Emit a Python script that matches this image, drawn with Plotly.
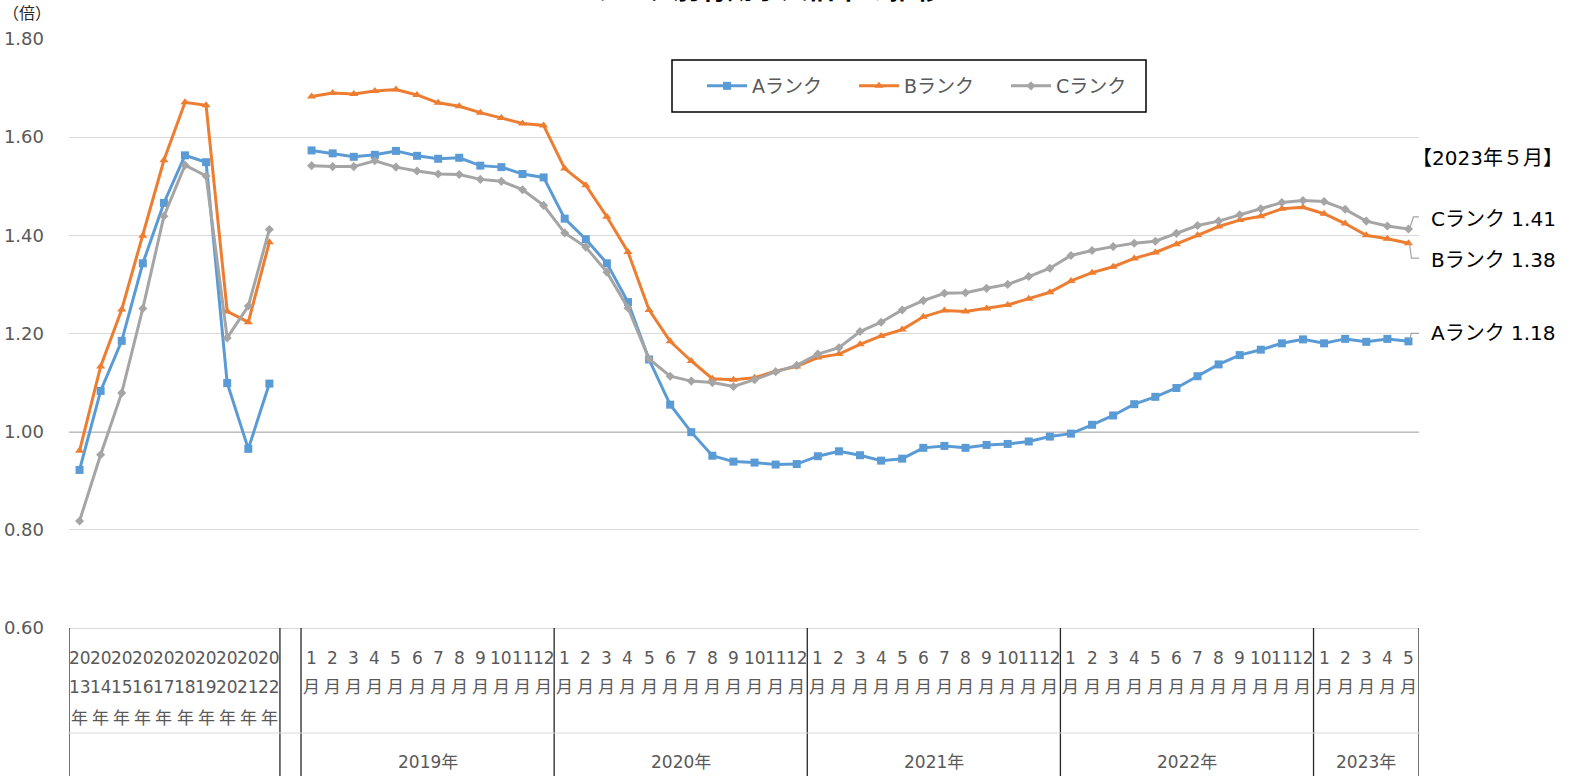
import plotly.graph_objects as go

# ---------------- data ----------------
annual_years = [2013, 2014, 2015, 2016, 2017, 2018, 2019, 2020, 2021, 2022]
month_years = [2019, 2020, 2021, 2022, 2023]
months_per_year = [12, 12, 12, 12, 5]

A_annual = [0.922, 1.083, 1.185, 1.343, 1.466, 1.563, 1.549, 1.099, 0.965, 1.098]
B_annual = [0.961, 1.133, 1.249, 1.399, 1.553, 1.671, 1.665, 1.245, 1.223, 1.386]
C_annual = [0.818, 0.953, 1.079, 1.251, 1.439, 1.543, 1.521, 1.191, 1.256, 1.412]

A_monthly = [1.573, 1.567, 1.560, 1.564, 1.572, 1.562, 1.556, 1.558, 1.542, 1.539, 1.525, 1.518,
             1.434, 1.392, 1.343, 1.264, 1.147, 1.055, 0.999, 0.951, 0.939, 0.937, 0.933, 0.934,
             0.950, 0.960, 0.952, 0.941, 0.945, 0.967, 0.971, 0.967, 0.973, 0.975, 0.980, 0.990,
             0.996, 1.014, 1.033, 1.056, 1.071, 1.089, 1.113, 1.137, 1.156, 1.167, 1.180, 1.188,
             1.180, 1.189, 1.183, 1.189, 1.184]
B_monthly = [1.683, 1.690, 1.688, 1.694, 1.697, 1.686, 1.670, 1.663, 1.650, 1.639, 1.628, 1.624,
             1.536, 1.502, 1.438, 1.366, 1.248, 1.184, 1.144, 1.108, 1.106, 1.110, 1.123, 1.133,
             1.151, 1.158, 1.178, 1.195, 1.208, 1.234, 1.247, 1.245, 1.251, 1.258, 1.271, 1.284,
             1.307, 1.324, 1.336, 1.353, 1.365, 1.382, 1.400, 1.418, 1.431, 1.439, 1.454, 1.457,
             1.444, 1.424, 1.400, 1.393, 1.384]
C_monthly = [1.542, 1.540, 1.540, 1.552, 1.539, 1.531, 1.525, 1.524, 1.514, 1.510, 1.493, 1.461,
             1.405, 1.376, 1.325, 1.252, 1.148, 1.113, 1.103, 1.100, 1.092, 1.106, 1.122, 1.135,
             1.158, 1.171, 1.204, 1.223, 1.248, 1.267, 1.282, 1.283, 1.292, 1.300, 1.316, 1.333,
             1.359, 1.369, 1.377, 1.384, 1.388, 1.404, 1.420, 1.429, 1.442, 1.454, 1.467, 1.471,
             1.469, 1.453, 1.429, 1.419, 1.413]

series_names = ["Aランク", "Bランク", "Cランク"]
series_colors = ["#5B9BD5", "#ED7D31", "#A5A5A5"]
series_symbols = ["square", "triangle-up", "diamond"]
series_msize = [8, 8, 7]

title_text = "ランク別有効求人倍率の推移"
y_unit = "（倍）"
latest_label = "【2023年５月】"

# ---------------- layout constants ----------------
W, H = 1573, 776
ML, MR, MT, MB = 69, 154, 39, 148
PW, PH = W - ML - MR, H - MT - MB
FONT = "DejaVu Sans, Noto Sans CJK JP"
GRAY_TXT = "#595959"


def py(p):  # pixel row -> paper y
    return (H - MB - p) / PH


def px(p):  # pixel column -> paper x
    return (p - ML) / PW


# categories: annual, one empty gap, then months
n_annual = len(annual_years)
gap_index = n_annual
x_annual = list(range(n_annual))
x_monthly = list(range(n_annual + 1, n_annual + 1 + sum(months_per_year)))
x_all = x_annual + [gap_index] + x_monthly
n_cat = len(x_all)

fig = go.Figure()
data_sets = [(A_annual, A_monthly), (B_annual, B_monthly), (C_annual, C_monthly)]
for (ann, mon), name, col, sym, ms in zip(data_sets, series_names, series_colors,
                                          series_symbols, series_msize):
    fig.add_trace(go.Scatter(
        x=x_all, y=ann + [None] + mon, name=name, mode="lines+markers",
        line=dict(color=col, width=3), marker=dict(symbol=sym, size=ms, color=col),
        connectgaps=False, hoverinfo="skip"))

annotations = []
shapes = []

# 1.00 reference line
shapes.append(dict(type="line", xref="paper", x0=0, x1=1, yref="y", y0=1.0, y1=1.0,
                   line=dict(color="black", width=1.3), layer="below"))

# category labels (level 1)
lab_font = dict(family=FONT, size=17, color=GRAY_TXT)
for i, yr in enumerate(annual_years):
    s = str(yr)
    for text, row in zip([s[:2], s[2:], "年"], [658, 687, 718]):
        annotations.append(dict(x=x_annual[i], xref="x", y=py(row), yref="paper", text=text,
                                showarrow=False, font=lab_font, xanchor="center",
                                yanchor="middle"))
k = 0
for yr, nm in zip(month_years, months_per_year):
    for m in range(1, nm + 1):
        for text, row in zip([str(m), "月"], [658, 687]):
            annotations.append(dict(x=x_monthly[k], xref="x", y=py(row), yref="paper",
                                    text=text, showarrow=False, font=lab_font,
                                    xanchor="center", yanchor="middle"))
        k += 1

# level 2 labels and group dividers
bounds = [x_annual[0] - 0.5, x_annual[-1] + 0.5, gap_index + 0.5]
k = 0
for yr, nm in zip(month_years, months_per_year):
    first, last = x_monthly[k], x_monthly[k + nm - 1]
    annotations.append(dict(x=(first + last) / 2, xref="x", y=py(762), yref="paper",
                            text=f"{yr}年", showarrow=False, font=lab_font,
                            xanchor="center", yanchor="middle"))
    bounds.append(last + 0.5)
    k += nm
for b in bounds:
    shapes.append(dict(type="line", xref="x", x0=b, x1=b, yref="paper", y0=0, y1=py(H),
                       line=dict(color="#262626", width=1.3)))
shapes.append(dict(type="line", xref="paper", x0=0, x1=1, yref="paper", y0=py(733),
                   y1=py(733), line=dict(color="#d9d9d9", width=1)))

# y unit
annotations.append(dict(x=px(27), xref="paper", y=py(14), yref="paper", text=y_unit,
                        showarrow=False, font=dict(family=FONT, size=16, color="#262626"),
                        xanchor="center", yanchor="middle"))

# title (partially cut off at the top, as in the reference)
annotations.append(dict(x=px(767), xref="paper", y=py(9), yref="paper",
                        text=f"<b>{title_text}</b>", showarrow=False,
                        font=dict(family="Noto Sans CJK JP", size=27, color="black"),
                        xanchor="center", yanchor="bottom"))

# latest-month labels on the right
annotations.append(dict(x=px(1410), xref="paper", y=py(158), yref="paper", text=latest_label,
                        showarrow=False, font=dict(family=FONT, size=20, color="black"),
                        xanchor="left", yanchor="middle"))
last_vals = [A_monthly[-1], B_monthly[-1], C_monthly[-1]]
label_rows = [333, 260, 219]
leader_paths = ["M 1,2 L 3,8 L 12,8", "M 1,0 L 3,-15 L 13,-15", "M 1,0 L 5,12 L 13,12"]
for name, v, row, path in zip(series_names, last_vals, label_rows, leader_paths):
    annotations.append(dict(x=px(1429), xref="paper", y=py(row), yref="paper",
                            text=f"{name} {v:.2f}", showarrow=False,
                            font=dict(family=FONT, size=20, color="black"),
                            xanchor="left", yanchor="middle"))
    shapes.append(dict(type="path", xref="x", yref="y", xsizemode="pixel", ysizemode="pixel",
                       xanchor=x_monthly[-1], yanchor=v, path=path,
                       line=dict(color="#a6a6a6", width=1.2)))

# legend frame
shapes.append(dict(type="rect", xref="paper", yref="paper", x0=px(672), x1=px(1146),
                   y0=py(112), y1=py(60), line=dict(color="black", width=1.5),
                   fillcolor="white", layer="below"))

fig.update_layout(
    width=W, height=H, margin=dict(l=ML, r=MR, t=MT, b=MB, autoexpand=False),
    paper_bgcolor="white", plot_bgcolor="rgba(0,0,0,0)",
    showlegend=True,
    legend=dict(orientation="h", x=px(702), y=py(86), xanchor="left", yanchor="middle",
                bgcolor="rgba(0,0,0,0)", borderwidth=0,
                font=dict(family=FONT, size=19, color=GRAY_TXT),
                entrywidth=97, entrywidthmode="pixels", itemwidth=40),
    annotations=annotations, shapes=shapes,
    xaxis=dict(range=[-0.5, n_cat - 0.5], showticklabels=False, showgrid=False,
               zeroline=False, showline=True, linecolor="#d9d9d9", linewidth=1, ticks="",
               automargin=False),
    yaxis=dict(range=[0.6, 1.8], dtick=0.2, tick0=0.6, tickformat=".2f", showgrid=True,
               gridcolor="#d9d9d9", gridwidth=1, zeroline=False, showline=False,
               ticks="", ticklabelstandoff=24, automargin=False,
               tickfont=dict(family=FONT, size=18, color=GRAY_TXT)),
    hovermode=False,
)

fig.write_html("out.html", config={"displayModeBar": False},
               post_script="document.body.style.margin='0';"
                           "document.body.style.overflow='hidden';")
